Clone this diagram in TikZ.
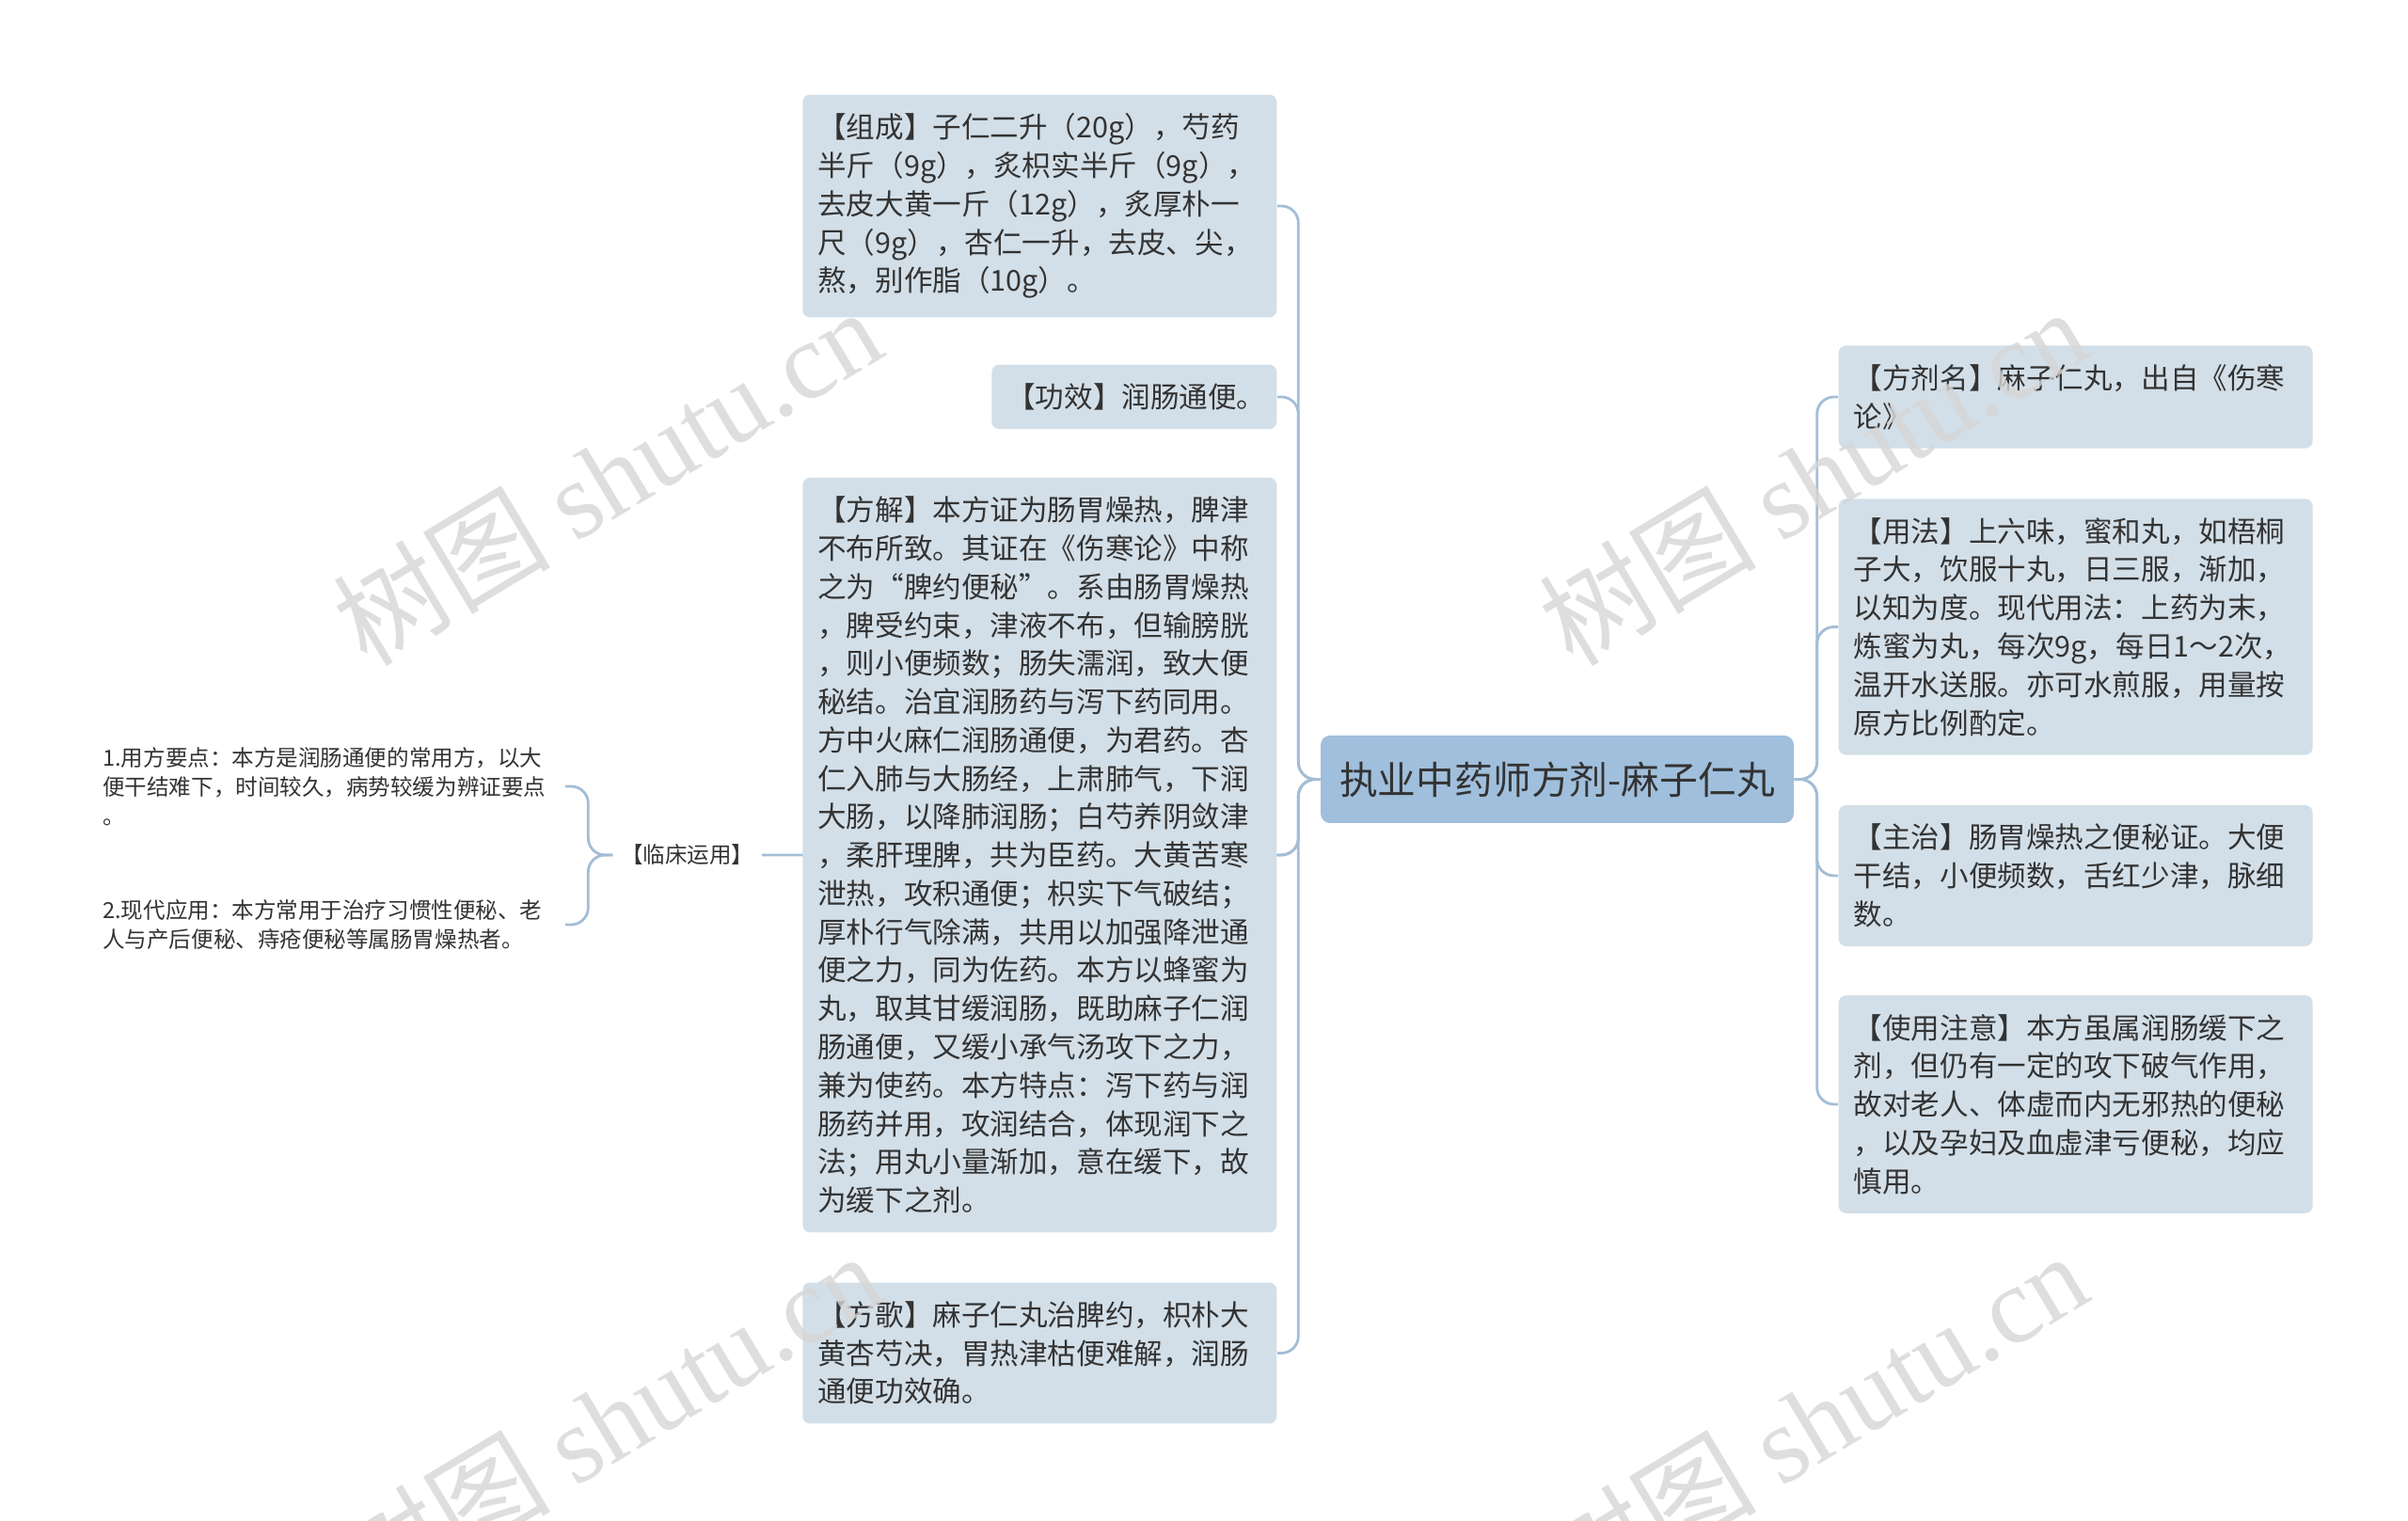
\documentclass[tikz,border=0pt]{standalone}
\usepackage{fontspec}
\setmainfont{Noto Sans CJK SC}
\newfontfamily\wmfont{Liberation Serif}
\usepackage{xcolor}
\usetikzlibrary{backgrounds}

\definecolor{rootblue}{HTML}{A0BFDC}
\definecolor{leafblue}{HTML}{D3DFE8}
\definecolor{linkblue}{HTML}{A3BDD6}
\definecolor{inkgray}{HTML}{333333}

\tikzset{
  topic/.style={fill=rootblue, rounded corners=0.1cm, text=inkgray, font=\fontsize{11.6}{14}\selectfont, minimum width=5.03cm, minimum height=0.93cm, inner sep=0pt},
  leaf/.style={fill=leafblue, rounded corners=0.08cm, text=inkgray, font=\fontsize{8.7}{11.6}\selectfont, align=left, text width=4.72cm, inner xsep=0.16cm, inner ysep=0.2cm},
  note/.style={text=inkgray, font=\fontsize{6.7}{8.8}\selectfont, align=left, inner xsep=0.08cm, inner ysep=0.04cm},
  link/.style={draw=linkblue, line width=0.8pt, rounded corners=0.18cm},
  wmark/.style={rotate=31, text=black!16, text opacity=0.8, font=\fontsize{33}{33}\selectfont, inner sep=0pt}
}

\begin{document}
\begin{tikzpicture}
\useasboundingbox (0,0) rectangle (25.6,16.17);

\node[topic] (root) at (16.555,7.885) {执业中药师方剂-麻子仁丸};

\node[leaf, anchor=east] (zc) at (13.58,13.98) {【组成】子仁二升（20g），芍药\\半斤（9g），炙枳实半斤（9g），\\去皮大黄一斤（12g），炙厚朴一\\尺（9g），杏仁一升，去皮、尖，\\熬，别作脂（10g）。};

\node[leaf, anchor=east, text width=2.71cm] (gx) at (13.58,11.95) {【功效】润肠通便。};

\node[leaf, anchor=east] (fj) at (13.58,7.08) {【方解】本方证为肠胃燥热，脾津\\不布所致。其证在《伤寒论》中称\\之为“脾约便秘”。系由肠胃燥热\\，脾受约束，津液不布，但输膀胱\\，则小便频数；肠失濡润，致大便\\秘结。治宜润肠药与泻下药同用。\\方中火麻仁润肠通便，为君药。杏\\仁入肺与大肠经，上肃肺气，下润\\大肠，以降肺润肠；白芍养阴敛津\\，柔肝理脾，共为臣药。大黄苦寒\\泄热，攻积通便；枳实下气破结；\\厚朴行气除满，共用以加强降泄通\\便之力，同为佐药。本方以蜂蜜为\\丸，取其甘缓润肠，既助麻子仁润\\肠通便，又缓小承气汤攻下之力，\\兼为使药。本方特点：泻下药与润\\肠药并用，攻润结合，体现润下之\\法；用丸小量渐加，意在缓下，故\\为缓下之剂。};

\node[leaf, anchor=east] (fg) at (13.58,1.785) {【方歌】麻子仁丸治脾约，枳朴大\\黄杏芍决，胃热津枯便难解，润肠\\通便功效确。};

\node[leaf, anchor=west] (fjm) at (19.54,11.95) {【方剂名】麻子仁丸，出自《伤寒\\论》};

\node[leaf, anchor=west] (yf) at (19.54,9.505) {【用法】上六味，蜜和丸，如梧桐\\子大，饮服十丸，日三服，渐加，\\以知为度。现代用法：上药为末，\\炼蜜为丸，每次9g，每日1～2次，\\温开水送服。亦可水煎服，用量按\\原方比例酌定。};

\node[leaf, anchor=west] (zz) at (19.54,6.86) {【主治】肠胃燥热之便秘证。大便\\干结，小便频数，舌红少津，脉细\\数。};

\node[leaf, anchor=west] (zy) at (19.54,4.43) {【使用注意】本方虽属润肠缓下之\\剂，但仍有一定的攻下破气作用，\\故对老人、体虚而内无邪热的便秘\\，以及孕妇及血虚津亏便秘，均应\\慎用。};

\node[note, anchor=east] (lc) at (8.10,7.08) {【临床运用】};

\node[note, anchor=east, text width=4.83cm] (u1) at (6.01,7.81) {1.用方要点：本方是润肠通便的常用方，以大\\便干结难下，时间较久，病势较缓为辨证要点\\。};

\node[note, anchor=east, text width=4.83cm] (u2) at (6.01,6.34) {2.现代应用：本方常用于治疗习惯性便秘、老\\人与产后便秘、痔疮便秘等属肠胃燥热者。};

\begin{scope}[on background layer]
\foreach \c in {zc,gx,fj,fg,lc}
  \draw[link] (root.west) -- ++(-0.23,0) |- (\c.east);
\foreach \c in {fjm,yf,zz,zy}
  \draw[link] (root.east) -- ++(0.24,0) |- (\c.west);
\foreach \c in {u1,u2}
  \draw[link] (lc.west) -- ++(-0.26,0) |- (\c.east);
\end{scope}

\node[wmark] (wm1) at (6.45,11.11) {树图 {\wmfont shutu.cn}};
\node[wmark] (wm2) at (19.27,11.11) {树图 {\wmfont shutu.cn}};
\node[wmark] (wm3) at (6.45,1.07) {树图 {\wmfont shutu.cn}};
\node[wmark] (wm4) at (19.27,1.07) {树图 {\wmfont shutu.cn}};

\end{tikzpicture}
\end{document}
